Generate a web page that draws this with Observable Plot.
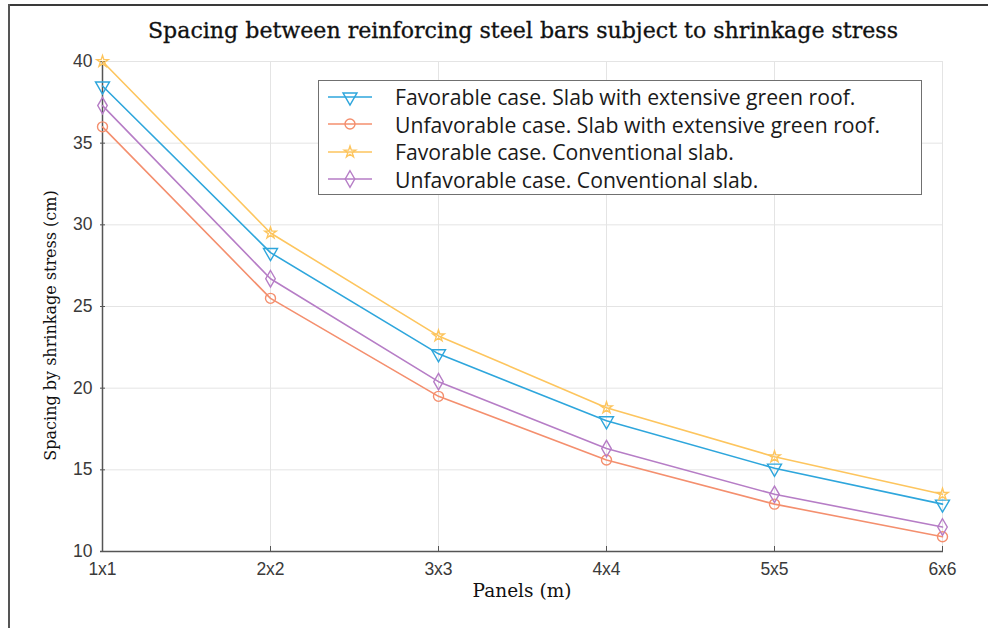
<!DOCTYPE html>
<html>
<head>
<meta charset="utf-8">
<script src="https://cdn.jsdelivr.net/npm/d3@7"></script>
<script src="https://cdn.jsdelivr.net/npm/@observablehq/plot@0.6"></script>
<style>
  html, body { margin: 0; padding: 0; background: #fff; }
  #fig { position: relative; width: 988px; height: 628px; overflow: hidden; background: #fff; }
  #frameTop { position: absolute; left: 8px; top: 4px; width: 980px; height: 2px; background: #3a3a3a; }
  #frameLeft { position: absolute; left: 8px; top: 4px; width: 2px; height: 624px; background: #555; }
  #title { position: absolute; left: 0; top: 17px; width: 1046px; text-align: center;
           font-family: "DejaVu Serif", serif; font-size: 22.1px; color: #111; -webkit-text-stroke: 0.3px #111; }
  #chart { position: absolute; left: 0; top: 50px; }
  #legend { position: absolute; left: 318px; top: 80px; width: 604px; height: 115px; box-sizing: border-box;
            border: 1px solid #707070; background: #fff; padding-top: 2px; }
  .row { display: flex; align-items: center; height: 27.5px; }
  .row svg { margin-left: 8px; margin-right: 22px; }
  .row span { font-family: "Open Sans", sans-serif; font-size: 21.2px; color: #1a1a1a; white-space: nowrap; }
</style>
</head>
<body>
<div id="fig">
  <div id="frameTop"></div>
  <div id="frameLeft"></div>
  <div id="chart"></div>
  <div id="title">Spacing between reinforcing steel bars subject to shrinkage stress</div>
  <div id="legend"></div>
</div>
<script>
// ---- data ----
const panels = ["1x1", "2x2", "3x3", "4x4", "5x5", "6x6"];
const favorableGreen   = [38.5, 28.3, 22.1, 18.0, 15.1, 12.9];
const unfavorableGreen = [36.0, 25.5, 19.5, 15.6, 12.9, 10.9];
const favorableConv    = [40.0, 29.5, 23.2, 18.8, 15.8, 13.5];
const unfavorableConv  = [37.3, 26.7, 20.4, 16.3, 13.5, 11.5];
const seriesNames = [
  "Favorable case. Slab with extensive green roof.",
  "Unfavorable case. Slab with extensive green roof.",
  "Favorable case. Conventional slab.",
  "Unfavorable case. Conventional slab."
];
const seriesColors = ["#2ea6dc", "#f48f6e", "#fdc55e", "#b67dc6"];
const yTicks = [10, 15, 20, 25, 30, 35, 40];
const xLabel = "Panels (m)";
const yLabel = "Spacing by shrinkage stress (cm)";

// downward triangle symbol
const triangleDown = {
  draw(context, size) {
    const s = Math.sqrt(4 * size / Math.sqrt(3));
    const h = s * Math.sqrt(3) / 2;
    context.moveTo(0, 2 * h / 3);
    context.lineTo(-s / 2, -h / 3);
    context.lineTo(s / 2, -h / 3);
    context.closePath();
  }
};
const seriesSymbols = [triangleDown, "circle", "star", "diamond"];
const seriesR = [5.2, 5, 3.6, 5];

const allValues = [favorableGreen, unfavorableGreen, favorableConv, unfavorableConv];
const rows = [];
allValues.forEach((vals, si) => {
  vals.forEach((v, i) => rows.push({panel: panels[i], value: v, series: seriesNames[si]}));
});

const tickFont = "Liberation Sans, Arial, sans-serif";
const marks = [
  Plot.gridX({stroke: "#e4e4e4", strokeOpacity: 1, strokeWidth: 1}),
  Plot.gridY(yTicks, {stroke: "#e4e4e4", strokeOpacity: 1, strokeWidth: 1}),
  Plot.ruleY([10], {stroke: "#555", strokeWidth: 1.5}),
  Plot.ruleX([panels[0]], {stroke: "#555", strokeWidth: 1.5}),
  Plot.axisX({tickSize: 0, tickPadding: 11, fill: "#3a3a3a", label: null, fontSize: 17.5, ariaLabel: "xticklabels"}),
  Plot.axisX({tickSize: 5, dy: -5, text: null, stroke: "#555", label: null}),
  Plot.axisY(yTicks, {tickSize: 0, tickPadding: 8, fill: "#3a3a3a", label: null, fontSize: 17.5, ariaLabel: "yticklabels"}),
  Plot.axisY(yTicks, {tickSize: 5, dx: 5, text: null, stroke: "#555", label: null}),
  Plot.text([xLabel], {frameAnchor: "bottom", dy: 45, fontSize: 18.5, fontFamily: "DejaVu Serif, serif", fill: "#111"}),
  Plot.text([yLabel], {frameAnchor: "left", textAnchor: "middle", rotate: -90, dx: -50, dy: 19, fontSize: 16, fontFamily: "DejaVu Serif, serif", fill: "#111"})
];
seriesNames.forEach((name, si) => {
  const d = rows.filter(r => r.series === name);
  marks.push(Plot.line(d, {x: "panel", y: "value", stroke: seriesColors[si], strokeWidth: 1.6}));
  marks.push(Plot.dot(d, {x: "panel", y: "value", stroke: seriesColors[si], symbol: seriesSymbols[si], r: seriesR[si], strokeWidth: 1.4, fill: "none"}));
});

const chart = Plot.plot({
  width: 988,
  height: 578,
  marginTop: 11,
  marginBottom: 77,
  marginLeft: 100,
  marginRight: 45,
  style: {background: "transparent", overflow: "visible", fontFamily: tickFont},
  x: {type: "point", domain: panels, padding: 0},
  y: {domain: [10, 40]},
  marks
});
// enlarge tick label text (axis text)
d3.select(chart).selectAll("g[aria-label='xticklabels'], g[aria-label='yticklabels']")
  .attr("font-size", 17.5).attr("font-family", tickFont);
document.getElementById("chart").appendChild(chart);

// legend
const legend = document.getElementById("legend");
seriesNames.forEach((name, si) => {
  const row = document.createElement("div");
  row.className = "row";
  const svg = d3.create("svg").attr("width", 46).attr("height", 20);
  svg.append("line").attr("x1", 1).attr("x2", 45).attr("y1", 10).attr("y2", 10)
    .attr("stroke", seriesColors[si]).attr("stroke-width", 1.6);
  const sym = typeof seriesSymbols[si] === "string"
    ? {circle: d3.symbolCircle, star: d3.symbolStar, diamond: d3.symbolDiamond}[seriesSymbols[si]]
    : seriesSymbols[si];
  svg.append("path").attr("transform", "translate(23,10)")
    .attr("d", d3.symbol(sym, Math.PI * seriesR[si] * seriesR[si])())
    .attr("fill", "none").attr("stroke", seriesColors[si]).attr("stroke-width", 1.4);
  row.appendChild(svg.node());
  const span = document.createElement("span");
  span.textContent = name;
  row.appendChild(span);
  legend.appendChild(row);
});
</script>
</body>
</html>
